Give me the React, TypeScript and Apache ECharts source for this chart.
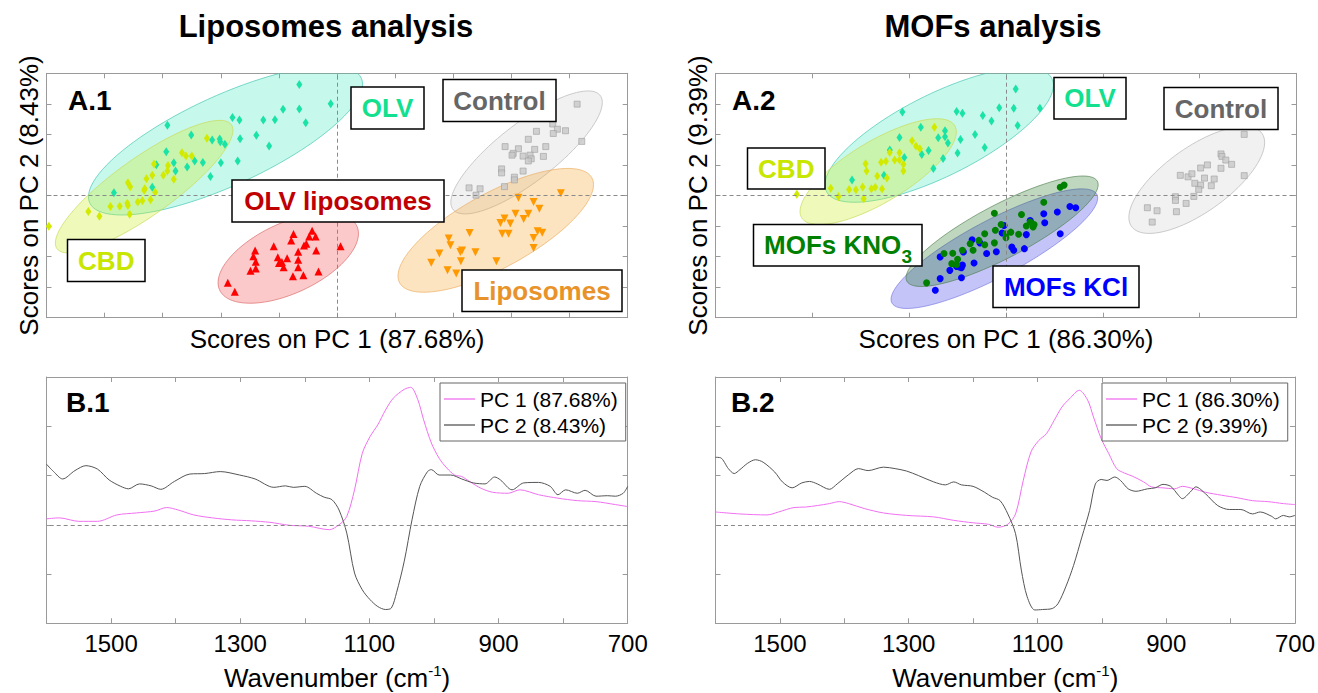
import React, { useEffect, useRef } from 'react';
import * as echarts from 'echarts';

const FONT = '"Liberation Sans", Arial, Helvetica, sans-serif';
const FRAME = '#9a9a9a';

// ---------- A.1 scores (Liposomes analysis) ----------
const a1OLV = [[-0.65,3.63],[-0.11,3.00],[-0.65,2.83],[-0.93,2.82],[-2.92,2.30],[-1.80,2.55],[-1.68,2.47],[-1.27,2.47],[-1.07,2.48],[-0.54,2.38],[-2.51,1.98],[-2.15,1.82],[-2.02,1.85],[-2.01,1.76],[-1.93,1.68],[-1.67,1.86],[-1.39,1.97],[-1.17,1.62],[-2.94,1.43],[-3.11,1.01],[-2.81,1.07],[-2.78,0.80],[-2.58,0.93],[-2.45,1.13],[-2.31,1.08],[-2.00,1.07],[-1.71,1.13],[-2.18,0.62],[-3.18,0.27],[-3.84,0.09]];
const a1CBD = [[-2.24,1.87],[-2.67,1.40],[-2.60,1.29],[-2.50,1.29],[-2.91,0.98],[-2.92,0.80],[-2.99,0.66],[-2.81,0.53],[-3.18,0.66],[-3.28,0.55],[-3.60,0.42],[-3.56,0.29],[-3.31,0.22],[-3.13,0.11],[-3.15,1.03],[-3.32,0.17],[-3.43,-0.21],[-3.35,-0.17],[-3.21,-0.14],[-3.61,-0.25],[-3.60,-0.33],[-3.74,-0.35],[-3.90,-0.36],[-3.57,-0.61],[-4.09,-0.68],[-4.28,-0.52],[-4.96,-1.01]];
const a1OLVLipo = [[-0.75,-1.26],[-0.43,-1.15],[-0.48,-1.34],[-0.37,-1.34],[-0.53,-1.58],[-0.57,-1.64],[-0.36,-1.80],[-0.79,-1.47],[-1.09,-1.66],[-0.67,-1.84],[-1.41,-1.80],[-1.44,-1.99],[-1.40,-2.17],[-1.02,-2.02],[-0.86,-2.05],[-0.95,-2.18],[-0.67,-2.10],[-1.00,-2.21],[-1.49,-2.46],[-1.40,-2.39],[-0.67,-2.35],[-0.92,-2.35],[-0.76,-2.64],[-0.58,-2.61],[-0.32,-2.49],[-1.88,-2.86],[-1.76,-3.15],[0.06,-1.66]];
const a1Control = [[4.13,2.99],[4.21,1.77],[3.71,2.34],[3.79,2.17],[3.93,2.12],[3.72,2.03],[3.43,2.10],[3.29,1.84],[3.59,1.60],[3.40,1.51],[3.12,1.53],[2.89,1.60],[3.03,1.38],[3.01,1.32],[3.20,1.29],[3.32,1.32],[3.55,1.28],[3.34,1.20],[3.29,1.13],[3.20,0.80],[2.83,0.87],[2.83,0.74],[3.05,0.60],[3.05,0.51],[2.88,0.29],[2.46,0.22],[2.27,0.25],[2.39,0.01]];
const a1Lipo = [[3.85,0.07],[3.12,-0.07],[3.38,-0.21],[3.48,-0.43],[3.07,-0.60],[3.29,-0.60],[3.21,-0.77],[2.88,-0.75],[2.81,-0.90],[2.98,-0.92],[2.28,-1.23],[2.84,-1.25],[2.95,-1.25],[3.45,-1.17],[3.53,-1.22],[3.38,-1.39],[3.38,-1.72],[1.92,-1.41],[1.95,-1.63],[2.15,-1.80],[1.76,-1.90],[2.12,-1.85],[2.38,-1.86],[1.62,-2.20],[2.13,-2.15],[2.74,-2.15],[1.90,-2.45],[2.05,-2.55]];
// confidence ellipses: [centerX, centerY, u_x, u_y, v_x, v_y]  (conjugate semi-diameters)
const a1Ellipses = [
  [-1.92, 1.80, 2.358, 1.842, 0, 1.598], // OLV
  [-3.32, 0.29, 1.528, 1.846, 0, 1.141], // CBD
  [-0.84, -2.05, 1.208, 0.803, 0, 1.239], // OLV liposomes
  [3.26, 1.41, 1.303, 1.635, 0, 1.174], // Control
  [2.73, -1.14, 1.682, 1.494, 0, 1.369], // Liposomes
];

// ---------- A.2 scores (MOFs analysis) ----------
const a2OLV = [[-1.07,2.73],[-0.51,2.75],[-0.45,2.69],[-0.24,2.62],[-0.15,2.44],[-0.07,2.87],[-0.88,2.23],[-1.10,1.90],[-0.70,1.89],[-0.63,2.12],[-0.63,1.92],[-0.60,1.72],[-0.47,1.83],[-0.32,2.00],[-1.20,1.49],[-1.05,1.24],[-0.87,1.34],[-0.80,1.47],[-0.65,1.21],[-0.50,1.39],[-0.22,1.57],[-0.75,0.88],[-1.59,0.51],[-1.26,0.66],[0.10,3.49],[0.08,2.86],[0.35,2.86],[0.12,2.29]];
const a2CBD = [[-0.74,2.23],[-0.97,1.79],[-0.93,1.62],[-0.89,1.53],[-1.10,1.40],[-1.20,1.41],[-1.10,1.16],[-1.06,1.02],[-1.24,1.12],[-1.29,1.09],[-1.15,1.16],[-1.45,1.04],[-1.44,0.80],[-1.06,0.80],[-1.33,0.64],[-1.23,0.57],[-1.28,0.21],[-1.35,0.27],[-1.48,0.28],[-1.39,0.22],[-1.55,0.19],[-1.62,0.20],[-1.81,0.24],[-1.73,-0.03],[-1.47,-0.11],[-2.16,0.04]];
const a2KNO3 = [[0.56,0.27],[0.60,0.34],[0.39,-0.22],[0.29,-0.95],[0.25,-0.87],[0.21,-1.00],[0.16,-0.62],[0.28,-1.03],[0.00,-1.25],[0.05,-1.20],[0.13,-1.27],[-0.11,-1.14],[-0.12,-0.58],[-0.22,-1.25],[-0.28,-1.47],[-0.22,-1.61],[-0.12,-1.55],[-0.37,-1.58],[-0.34,-1.79],[-0.45,-1.79],[-0.55,-1.89],[-0.64,-1.90],[-0.50,-2.09],[-0.51,-2.26],[-0.56,-2.23],[-0.82,-2.86],[0.00,-1.38],[-0.05,-0.95]];
const a2KCl = [[0.66,-0.36],[0.72,-0.40],[0.56,-1.25],[0.39,-0.60],[0.53,-0.54],[0.25,-0.82],[0.21,-1.28],[0.19,-1.74],[0.06,-1.69],[0.08,-1.79],[-0.02,-0.98],[-0.04,-1.23],[-0.10,-1.84],[-0.20,-1.90],[-0.27,-1.55],[-0.33,-2.21],[-0.35,-1.45],[-0.44,-1.85],[-0.45,-2.28],[-0.48,-2.34],[-0.46,-2.36],[-0.51,-2.32],[-0.58,-2.45],[-0.68,-2.01],[-0.68,-2.72],[-0.73,-3.10],[-0.46,-2.69],[0.40,-0.89]];
const a2Control = [[2.46,2.00],[2.46,0.65],[2.22,1.36],[2.23,1.28],[2.27,1.16],[2.33,1.02],[2.22,0.89],[2.08,1.00],[2.01,0.90],[1.80,0.66],[1.88,0.61],[1.92,0.71],[2.05,0.57],[2.15,0.54],[1.95,0.40],[2.01,0.34],[1.99,0.20],[2.12,0.32],[1.75,-0.04],[1.75,-0.16],[1.94,-0.03],[1.86,-0.26],[1.56,-0.50],[1.46,-0.40],[1.76,-0.53],[1.51,-0.87]];
const a2Ellipses = [
  [-0.69, 1.98, 1.180, 1.630, 0, 1.48], // OLV
  [-1.32, 0.78, 0.807, 1.304, 0, 1.141], // CBD
  [-0.12, -1.74, 1.067, 1.657, 0, 1.043], // MOFs KCl
  [-0.04, -1.17, 0.992, 1.521, 0, 0.978], // MOFs KNO3
  [1.97, 0.51, 0.701, 1.224, 0, 1.252], // Control
];

// ---------- B loadings ----------
const b1PC1 = [[1600,0.12],[1580,0.14],[1550,0.07],[1521,0.07],[1491,0.20],[1461,0.24],[1432,0.28],[1414,0.35],[1396,0.30],[1372,0.20],[1343,0.14],[1313,0.10],[1283,0.08],[1254,0.05],[1224,-0.01],[1194,-0.03],[1162,-0.10],[1147,0.00],[1135,0.17],[1123,0.71],[1111,1.45],[1099,1.79],[1087,2.03],[1075,2.33],[1063,2.57],[1046,2.75],[1036,2.79],[1025,2.54],[1016,2.13],[1004,1.66],[992,1.35],[980,1.15],[968,1.01],[957,0.98],[945,0.88],[927,0.74],[909,0.66],[885,0.64],[867,0.71],[838,0.61],[808,0.54],[778,0.49],[749,0.47],[719,0.41],[700,0.37]];
const b1PC2 = [[1600,1.23],[1589,1.08],[1575,0.93],[1556,1.10],[1539,1.20],[1521,1.13],[1503,0.91],[1485,0.78],[1473,0.73],[1456,0.83],[1438,0.79],[1423,0.72],[1402,0.88],[1378,1.03],[1355,1.04],[1331,1.08],[1301,1.01],[1277,0.93],[1248,0.76],[1230,0.79],[1218,0.76],[1200,0.78],[1182,0.64],[1170,0.56],[1158,0.51],[1147,0.30],[1135,-0.17],[1123,-0.98],[1111,-1.32],[1099,-1.52],[1087,-1.66],[1075,-1.72],[1066,-1.69],[1058,-1.38],[1046,-0.74],[1034,0.10],[1022,0.78],[1010,1.08],[1004,1.12],[992,1.01],[974,1.01],[957,0.93],[939,0.85],[921,0.83],[906,0.97],[897,0.91],[879,0.71],[861,0.85],[838,0.86],[820,0.78],[808,0.61],[796,0.71],[778,0.64],[766,0.70],[749,0.58],[731,0.59],[719,0.58],[707,0.64],[700,0.78]];
const b2PC1 = [[1600,0.26],[1562,0.22],[1520,0.20],[1502,0.26],[1478,0.35],[1460,0.36],[1442,0.39],[1423,0.43],[1408,0.47],[1393,0.43],[1369,0.33],[1339,0.24],[1303,0.19],[1261,0.16],[1230,0.09],[1200,0.04],[1176,0.01],[1161,-0.05],[1146,0.01],[1134,0.22],[1122,0.90],[1110,1.48],[1098,1.71],[1086,1.85],[1074,2.12],[1062,2.39],[1050,2.56],[1035,2.73],[1022,2.53],[1013,2.19],[1001,1.75],[989,1.44],[977,1.14],[965,1.05],[953,0.99],[935,0.87],[923,0.77],[905,0.75],[887,0.73],[875,0.78],[857,0.73],[839,0.66],[814,0.60],[790,0.55],[766,0.49],[742,0.47],[718,0.43],[700,0.41]];
const b2PC2 = [[1600,1.37],[1592,1.36],[1580,1.14],[1571,1.04],[1562,1.12],[1550,1.25],[1538,1.32],[1526,1.27],[1508,1.07],[1496,0.87],[1481,0.75],[1466,0.85],[1454,0.88],[1442,0.83],[1423,0.72],[1411,0.83],[1393,1.02],[1378,1.14],[1363,1.10],[1339,1.17],[1321,1.14],[1303,1.09],[1285,1.00],[1261,0.87],[1243,0.81],[1230,0.87],[1218,0.81],[1200,0.78],[1182,0.66],[1170,0.56],[1158,0.49],[1146,0.22],[1134,-0.18],[1125,-0.92],[1116,-1.46],[1104,-1.73],[1092,-1.72],[1077,-1.70],[1068,-1.60],[1056,-1.26],[1044,-0.83],[1031,-0.25],[1019,0.29],[1010,0.83],[1001,0.92],[992,0.90],[980,0.97],[971,0.90],[959,0.73],[947,0.68],[929,0.73],[917,0.75],[905,0.82],[893,0.78],[881,0.60],[875,0.53],[863,0.66],[854,0.77],[839,0.63],[820,0.39],[802,0.31],[784,0.31],[766,0.22],[754,0.26],[736,0.17],[730,0.12],[718,0.19],[709,0.16],[700,0.19]];

const legend1Names = ['PC 1 (87.68%)', 'PC 2 (8.43%)'];
const legend2Names = ['PC 1 (86.30%)', 'PC 2 (9.39%)'];
const xTicksB = { min: 700, max: 1600, interval: 100 };

const a1EllipseStyle = [
  { fill: 'rgba(40,228,180,0.26)', stroke: 'rgba(70,200,180,0.7)' },
  { fill: 'rgba(205,235,40,0.32)', stroke: 'rgba(200,220,90,0.7)' },
  { fill: 'rgba(240,60,60,0.28)', stroke: 'rgba(220,110,110,0.7)' },
  { fill: 'rgba(200,200,200,0.25)', stroke: 'rgba(190,190,190,0.8)' },
  { fill: 'rgba(250,165,50,0.30)', stroke: 'rgba(235,175,100,0.7)' },
];
const a2EllipseStyle = [
  { fill: 'rgba(40,228,180,0.26)', stroke: 'rgba(70,200,180,0.7)' },
  { fill: 'rgba(205,235,40,0.32)', stroke: 'rgba(200,220,90,0.7)' },
  { fill: 'rgba(60,60,235,0.30)', stroke: 'rgba(110,110,220,0.6)' },
  { fill: 'rgba(20,110,20,0.28)', stroke: 'rgba(70,120,70,0.6)' },
  { fill: 'rgba(200,200,200,0.25)', stroke: 'rgba(190,190,190,0.8)' },
];

function ellipseSeries(data: number[][], styles: any[], gi: number) {
  return {
    type: 'custom',
    xAxisIndex: gi * 2,
    yAxisIndex: gi * 2,
    clip: true,
    silent: true,
    z: 1,
    data,
    renderItem: (params: any, api: any) => {
      const cx = api.value(0), cy = api.value(1);
      const ux = api.value(2), uy = api.value(3);
      const vx = api.value(4), vy = api.value(5);
      const pts: number[][] = [];
      const n = 96;
      for (let k = 0; k < n; k++) {
        const t = (k / n) * Math.PI * 2;
        const c = Math.cos(t), s = Math.sin(t);
        pts.push(api.coord([cx + ux * c + vx * s, cy + uy * c + vy * s]));
      }
      const st = styles[params.dataIndex];
      return { type: 'polygon', shape: { points: pts }, style: { fill: st.fill, stroke: st.stroke, lineWidth: 1 } };
    },
  };
}

function scatter(name: string, data: number[][], gi: number, symbol: string, size: any, color: string, extra: any = {}) {
  return {
    name, type: 'scatter', xAxisIndex: gi * 2, yAxisIndex: gi * 2, data, symbol, symbolSize: size,
    silent: true, z: 3,
    itemStyle: { color, opacity: 1 },
    ...extra,
  };
}

const zeroLines = (both: boolean) => ({
  silent: true, symbol: 'none', label: { show: false },
  lineStyle: { type: [4, 3], color: '#8a8a8a', width: 1 },
  data: both ? [{ xAxis: 0 }, { yAxis: 0 }] : [{ yAxis: 0 }],
});

function axis(gridIndex: number, position: string, min: number, max: number, interval: number, extra: any = {}) {
  return {
    type: 'value', gridIndex, position, min, max, interval,
    axisLine: { show: true, onZero: false, lineStyle: { color: FRAME, width: 1 } },
    axisTick: { show: true, inside: true, length: 5, lineStyle: { color: FRAME } },
    axisLabel: { show: false },
    splitLine: { show: false },
    ...extra,
  };
}

const nameStyle = { fontSize: 26, color: '#000', fontFamily: FONT };
const wnName = {
  name: '{t|Wavenumber (cm}{s|-1}{t|)}',
  nameLocation: 'middle',
  nameGap: 40,
  nameTextStyle: {
    color: '#000', fontFamily: FONT, fontSize: 26,
    rich: {
      t: { fontSize: 26, fontFamily: FONT, color: '#000', lineHeight: 29 },
      s: { fontSize: 15, fontFamily: FONT, color: '#000', verticalAlign: 'top', lineHeight: 15 },
    },
  },
};
const wnLabels = {
  axisLabel: {
    show: true, fontSize: 24, color: '#000', fontFamily: FONT, margin: 8,
    showMinLabel: true, showMaxLabel: true,
    formatter: (v: number) => (Math.round(v) % 200 === 100 ? String(v) : ''),
  },
};

function txt(x: number, y: number, text: string, font: string, fill: string, align = 'center') {
  return {
    type: 'text', x, y, z: 100, silent: true,
    style: { text, font, fill, textAlign: align, align, textVerticalAlign: 'middle', verticalAlign: 'middle' },
  };
}

function boxRect(x: number, y: number, w: number, h: number) {
  return { type: 'rect', z: 100, shape: { x, y, width: w, height: h }, style: { fill: '#fff', stroke: '#000', lineWidth: 1.5 } };
}

function labelBox(x: number, y: number, w: number, h: number, text: string, color: string) {
  return {
    type: 'group', z: 100, silent: true,
    children: [
      boxRect(x, y, w, h),
      { ...txt(x + w / 2, y + h / 2, text, `bold 26px ${FONT}`, color), z: 101 },
    ],
  };
}

function legendCfg(data: string[], left: number) {
  return {
    data, left, top: 383, orient: 'vertical', selectedMode: false,
    icon: 'rect',
    backgroundColor: '#fff', borderColor: '#666', borderWidth: 1,
    padding: [5, 8, 5, 4], itemGap: 4, itemWidth: 31, itemHeight: 1.3,
    textStyle: { fontSize: 21, color: '#000', fontFamily: FONT, lineHeight: 22 },
  };
}

function buildOption() {
  const lineS = (name: string, data: number[][], gi: number, color: string, extra: any = {}) => ({
    name, type: 'line', xAxisIndex: gi * 2, yAxisIndex: gi * 2, data,
    symbol: 'none', showSymbol: false, smooth: 0.3, silent: true, z: 3,
    lineStyle: { color, width: 1 }, itemStyle: { color },
    ...extra,
  });

  return {
    animation: false,
    backgroundColor: '#fff',
    textStyle: { fontFamily: FONT },
    grid: [
      { left: 46.5, top: 73.3, width: 581.2, height: 244.4 },
      { left: 715.5, top: 73.3, width: 581, height: 244.4 },
      { left: 46.5, top: 377, width: 581.2, height: 246.3 },
      { left: 715.5, top: 377, width: 581, height: 246.3 },
    ],
    xAxis: [
      axis(0, 'bottom', -5, 5, 1, { name: 'Scores on PC 1 (87.68%)', nameLocation: 'middle', nameGap: 8, nameTextStyle: nameStyle }),
      axis(0, 'top', -5, 5, 1),
      axis(1, 'bottom', -3, 3, 1, { name: 'Scores on PC 1 (86.30%)', nameLocation: 'middle', nameGap: 8, nameTextStyle: nameStyle }),
      axis(1, 'top', -3, 3, 1),
      axis(2, 'bottom', xTicksB.min, xTicksB.max, xTicksB.interval, { inverse: true, ...wnLabels, ...wnName }),
      axis(2, 'top', xTicksB.min, xTicksB.max, xTicksB.interval, { inverse: true }),
      axis(3, 'bottom', xTicksB.min, xTicksB.max, xTicksB.interval, { inverse: true, ...wnLabels, ...wnName }),
      axis(3, 'top', xTicksB.min, xTicksB.max, xTicksB.interval, { inverse: true }),
    ],
    yAxis: [
      axis(0, 'left', -4, 4, 1, { name: 'Scores on PC 2 (8.43%)', nameLocation: 'middle', nameGap: 5, nameTextStyle: nameStyle }),
      axis(0, 'right', -4, 4, 1),
      axis(1, 'left', -4, 4, 1, { name: 'Scores on PC 2 (9.39%)', nameLocation: 'middle', nameGap: 5, nameTextStyle: nameStyle }),
      axis(1, 'right', -4, 4, 1),
      axis(2, 'left', -2, 3, 1),
      axis(2, 'right', -2, 3, 1),
      axis(3, 'left', -2, 3, 1),
      axis(3, 'right', -2, 3, 1),
    ],
    legend: [legendCfg(legend1Names, 440), legendCfg(legend2Names, 1102)],
    series: [
      ellipseSeries(a1Ellipses, a1EllipseStyle, 0),
      scatter('A1 OLV', a1OLV, 0, 'diamond', [6, 9], '#19E3A6', { markLine: zeroLines(true) }),
      scatter('A1 CBD', a1CBD, 0, 'diamond', [6, 9], '#D2EA00'),
      scatter('A1 OLV liposomes', a1OLVLipo, 0, 'triangle', 8, '#FF0000'),
      scatter('A1 Control', a1Control, 0, 'rect', 6, '#C8C8C8', { itemStyle: { color: '#C8C8C8', borderColor: '#A0A0A0', borderWidth: 0.8 } }),
      scatter('A1 Liposomes', a1Lipo, 0, 'triangle', 8, '#FF9900', { symbolRotate: 180 }),

      ellipseSeries(a2Ellipses, a2EllipseStyle, 1),
      scatter('A2 OLV', a2OLV, 1, 'diamond', [6, 9], '#19E3A6', { markLine: zeroLines(true) }),
      scatter('A2 CBD', a2CBD, 1, 'diamond', [6, 9], '#D2EA00'),
      scatter('A2 MOFs KCl', a2KCl, 1, 'circle', 7, '#0000FF'),
      scatter('A2 MOFs KNO3', a2KNO3, 1, 'circle', 7, '#008000'),
      scatter('A2 Control', a2Control, 1, 'rect', 6, '#C8C8C8', { itemStyle: { color: '#C8C8C8', borderColor: '#A0A0A0', borderWidth: 0.8 } }),

      lineS(legend1Names[0], b1PC1, 2, '#F070F0', { markLine: zeroLines(false) }),
      lineS(legend1Names[1], b1PC2, 2, '#555555'),
      lineS(legend2Names[0], b2PC1, 3, '#F070F0', { markLine: zeroLines(false) }),
      lineS(legend2Names[1], b2PC2, 3, '#555555'),
    ],
    graphic: [
      txt(326, 26, 'Liposomes analysis', `bold 31px ${FONT}`, '#000'),
      txt(993, 26, 'MOFs analysis', `bold 31px ${FONT}`, '#000'),
      txt(68, 100, 'A.1', `bold 28px ${FONT}`, '#000', 'left'),
      txt(732, 100, 'A.2', `bold 28px ${FONT}`, '#000', 'left'),
      txt(66, 402.5, 'B.1', `bold 28px ${FONT}`, '#000', 'left'),
      txt(731, 402.5, 'B.2', `bold 28px ${FONT}`, '#000', 'left'),

      labelBox(351, 87, 73, 42, 'OLV', '#12E08E'),
      labelBox(443, 79.5, 113, 42, 'Control', '#666666'),
      labelBox(232, 180, 212, 42, 'OLV liposomes', '#C00000'),
      labelBox(67.5, 239.5, 77.5, 42, 'CBD', '#C8E600'),
      labelBox(462, 270, 160, 41.5, 'Liposomes', '#E8922A'),

      labelBox(1054, 77.5, 72, 41.5, 'OLV', '#12E08E'),
      labelBox(1164, 87.5, 114, 42, 'Control', '#666666'),
      labelBox(747.5, 148, 77.5, 41, 'CBD', '#C8E600'),
      {
        type: 'group', z: 100, silent: true,
        children: [
          boxRect(753.5, 224.5, 168.5, 41.5),
          { ...txt(764, 245, 'MOFs KNO', `bold 26px ${FONT}`, '#008000', 'left'), z: 101 },
          { ...txt(901.5, 256.5, '3', `bold 19px ${FONT}`, '#008000', 'left'), z: 101 },
        ],
      },
      labelBox(993, 266, 146, 41.5, 'MOFs KCl', '#0000FF'),
    ],
  };
}

export default function App() {
  const ref = useRef<HTMLDivElement>(null);
  useEffect(() => {
    const chart = echarts.init(ref.current as HTMLDivElement, null, { renderer: 'svg' });
    chart.setOption(buildOption() as any);
    return () => chart.dispose();
  }, []);
  return (
    <div
      ref={ref}
      style={{ position: 'fixed', left: 0, top: 0, width: 1318, height: 693, background: '#fff' }}
    />
  );
}
